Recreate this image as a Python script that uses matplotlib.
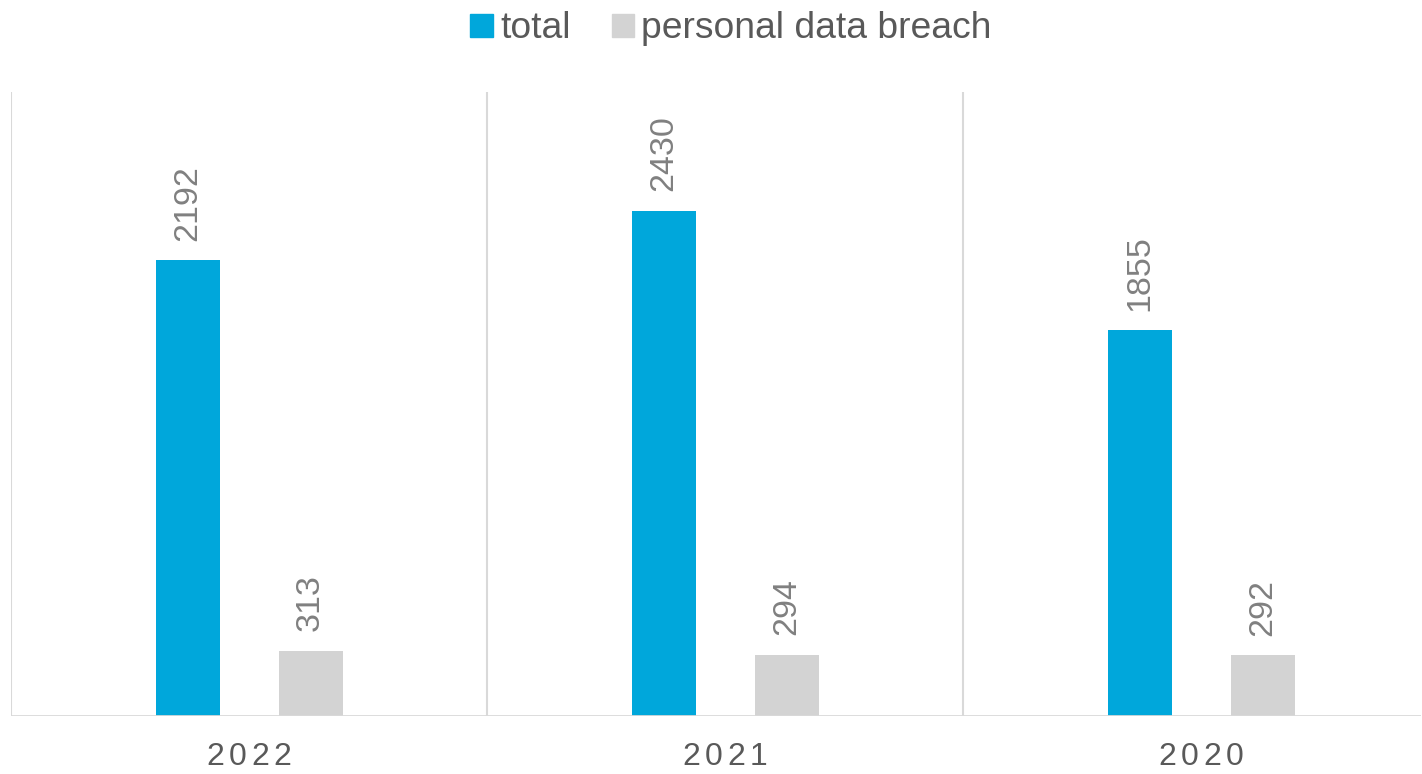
import matplotlib
matplotlib.use("Agg")
import matplotlib.pyplot as plt
from matplotlib.patches import Patch

plt.rcParams['font.family'] = ['Liberation Sans', 'DejaVu Sans']

years = ["2022", "2021", "2020"]
total = [2192, 2430, 1855]
personal = [313, 294, 292]

c_total = "#00A7DB"
c_personal = "#D3D3D3"
grid_c = "#D9D9D9"

fig = plt.figure(figsize=(14.22, 7.74), dpi=100)
ax = fig.add_axes([11 / 1422, 58 / 774, 1410 / 1422, 624 / 774])

centers = [i + 0.5 for i in range(len(years))]
off = 61.5 / 476
w = 64 / 476
b1 = ax.bar([c - off for c in centers], total, width=w, color=c_total)
b2 = ax.bar([c + off for c in centers], personal, width=w, color=c_personal)

for bars in (b1, b2):
    for r in bars:
        ax.annotate(str(int(r.get_height())),
                    (r.get_x() + r.get_width() / 2, r.get_height()),
                    xytext=(0, 14), textcoords="offset points",
                    rotation=90, ha="center", va="bottom",
                    fontsize=24.5, color="#808080")

ax.set_xlim(0, 1410 / 476)
ax.set_ylim(0, 3000)
for i in range(len(years)):
    ax.axvline(i, color=grid_c, lw=1.5, zorder=0)
ax.axhline(0, color=grid_c, lw=2, zorder=3)

for s in ax.spines.values():
    s.set_visible(False)
ax.set_xticks([])
ax.set_yticks([])

# year labels with letter spacing
step = 22.5
for c, y in zip(centers, years):
    n = len(y)
    for k, ch in enumerate(y):
        dx = (k - (n - 1) / 2) * step
        ax.annotate(ch, (c, 0), xytext=(dx * 0.72, -19), textcoords="offset points",
                    ha="center", va="top", fontsize=23, color="#595959",
                    annotation_clip=False)

handles = [Patch(color=c_total, label="total"),
           Patch(color=c_personal, label="personal data breach")]
fig.legend(handles=handles, loc="center", bbox_to_anchor=(0.5 + 20 / 1422, 1 - 29 / 774),
           ncol=2, frameon=False, fontsize=26.8, labelcolor="#595959",
           handlelength=0.6, handleheight=0.6, handletextpad=0.2,
           columnspacing=1.1)

fig.savefig("out.png", dpi=100)
